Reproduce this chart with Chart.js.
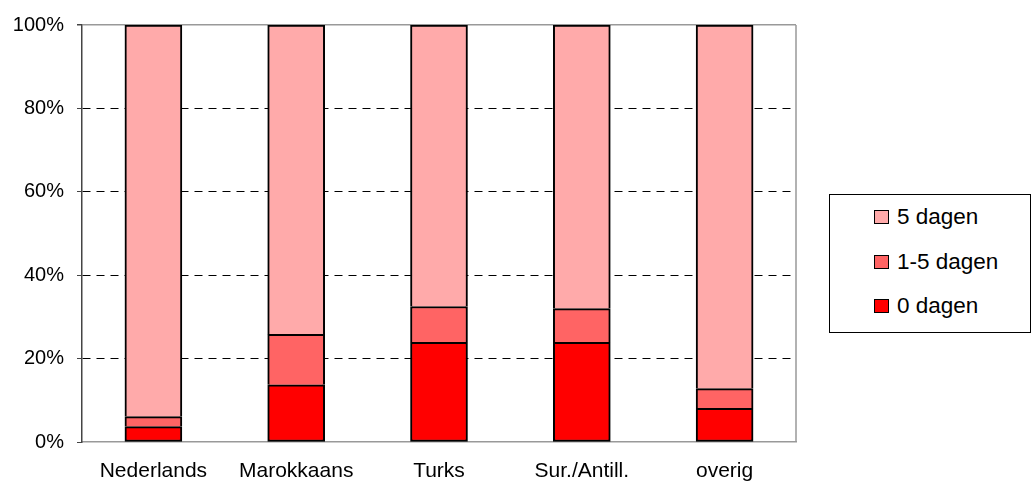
<!DOCTYPE html>
<html lang="nl">
<head>
    <meta charset="UTF-8">
    <title>Dagen</title>
    <script src="https://cdn.jsdelivr.net/npm/chart.js"></script>
    <style>
        * {
            margin: 0;
            padding: 0;
            box-sizing: border-box;
        }

        body {
            background: #ffffff;
            width: 1032px;
            height: 483px;
            overflow: hidden;
            font-family: 'Liberation Sans', Arial, sans-serif;
        }

        #wrap {
            position: relative;
            width: 1032px;
            height: 483px;
        }

        #legend {
            position: absolute;
            left: 829px;
            top: 194px;
            width: 202px;
            height: 139px;
            border: 1px solid #000;
            background: #fff;
            padding-top: 0;
        }

        .item {
            display: flex;
            align-items: center;
            height: 44.5px;
            padding-left: 44px;
            font-size: 22.5px;
            color: #000;
        }

        .swatch {
            width: 15px;
            height: 14px;
            border: 1.5px solid #000;
            margin-right: 8px;
        }
    </style>
</head>
<body>
    <div id="wrap">
        <canvas id="chart" width="1032" height="483"></canvas>
        <div id="legend"></div>
    </div>

    <script>
        // data (percent of each group)
        const categories = ['Nederlands', 'Marokkaans', 'Turks', 'Sur./Antill.', 'overig'];
        const nulDagen = [3.7, 13.7, 23.9, 23.9, 8.1];
        const eenTotVijfDagen = [2.4, 12.1, 8.6, 8.1, 4.7];
        const vijfDagen = [93.9, 74.2, 67.5, 68.0, 87.2];
        const seriesLabels = ['0 dagen', '1-5 dagen', '5 dagen'];
        const seriesColors = ['#ff0000', '#ff6464', '#ffaaaa'];
        const yTicks = [0, 20, 40, 60, 80, 100];

        const font = { family: "'Liberation Sans', Arial, sans-serif", size: 20 };
        const xFont = { family: "'Liberation Sans', Arial, sans-serif", size: 21 };

        // gray frame on the right side of the plot area
        const frame = {
            id: 'frame',
            afterDraw(chart) {
                const a = chart.chartArea;
                const c = chart.ctx;
                c.save();
                c.strokeStyle = '#999999';
                c.lineWidth = 1.5;
                c.beginPath();
                c.moveTo(a.right, a.top);
                c.lineTo(a.right, a.bottom);
                c.stroke();
                c.restore();
            }
        };

        const seriesData = [nulDagen, eenTotVijfDagen, vijfDagen];

        const chart = new Chart(document.getElementById('chart'), {
            type: 'bar',
            data: {
                labels: categories,
                datasets: seriesData.map((d, i) => ({
                    label: seriesLabels[i],
                    data: d,
                    backgroundColor: seriesColors[i],
                    borderColor: '#000000',
                    borderWidth: i === 0 ? 2 : { top: 2, left: 2, right: 2, bottom: 0 },
                    borderSkipped: false,
                    barThickness: 57,
                })),
            },
            options: {
                responsive: false,
                animation: false,
                layout: {
                    padding: { top: 24, right: 236, bottom: 0, left: 0 },
                },
                plugins: {
                    legend: { display: false },
                    tooltip: { enabled: false },
                },
                scales: {
                    x: {
                        stacked: true,
                        afterFit: (s) => { s.height = 41; },
                        grid: { display: false, drawTicks: false },
                        border: { color: '#999999', width: 1.5 },
                        ticks: { color: '#000', font: xFont, padding: 17 },
                    },
                    y: {
                        stacked: true,
                        min: 0,
                        max: 100,
                        afterFit: (s) => { s.width = 82; },
                        afterBuildTicks: (s) => { s.ticks = yTicks.map((v) => ({ value: v })); },
                        grid: {
                            color: (c) => (c.tick && c.tick.value === 0 ? 'rgba(0,0,0,0)'
                                : c.tick && c.tick.value === 100 ? '#999999' : '#000000'),
                            lineWidth: (c) => (c.tick && c.tick.value === 100 ? 1.5 : 1),
                            tickLength: 5,
                            tickColor: '#444444',
                        },
                        border: {
                            color: '#444444',
                            width: 1.5,
                            dash: (c) => (c.tick && c.tick.value === 100 ? [] : [8, 6]),
                        },
                        ticks: {
                            color: '#000',
                            font: font,
                            padding: 13,
                            callback: (v) => v + '%',
                        },
                    },
                },
            },
            plugins: [frame],
        });

        // legend, top entry first like the original
        const legend = document.getElementById('legend');
        for (let i = seriesLabels.length - 1; i >= 0; i--) {
            const row = document.createElement('div');
            row.className = 'item';
            const sw = document.createElement('span');
            sw.className = 'swatch';
            sw.style.background = seriesColors[i];
            row.appendChild(sw);
            row.appendChild(document.createTextNode(seriesLabels[i]));
            legend.appendChild(row);
        }
    </script>
</body>
</html>
